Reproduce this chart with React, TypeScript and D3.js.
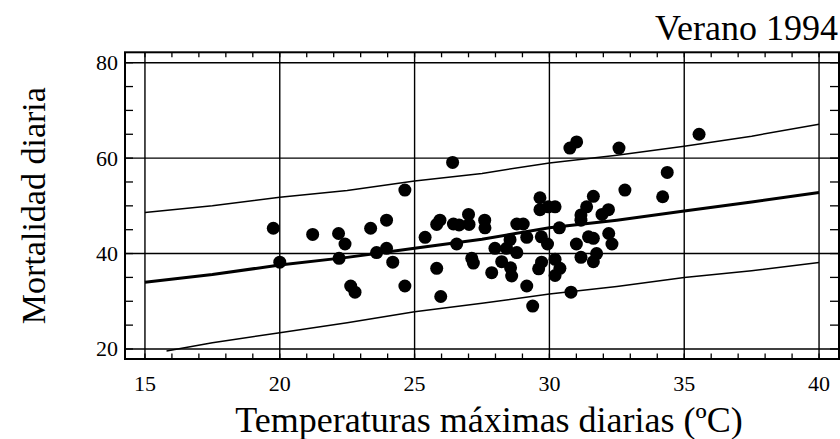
import React from "react";
import * as d3 from "d3";

const W = 840;
const H = 439;

// scatter: daily max temperature (ºC) vs daily mortality
const temps = [
  19.76, 21.22, 22.18, 22.42, 20.0, 22.2, 22.63, 22.79, 23.37, 23.96,
  23.59, 23.96, 24.19, 24.64, 24.64, 25.39, 25.82, 25.97, 25.94, 25.82,
  26.41, 26.44, 26.65, 27.0, 27.02, 26.56, 27.12, 27.18, 27.6, 27.61,
  27.98, 27.86, 28.23, 28.41, 28.54, 28.79, 29.03, 28.56, 28.6, 28.79,
  29.16, 29.16, 29.38, 29.65, 29.65, 30.21, 29.7, 29.93, 29.71, 29.6,
  30.21, 30.21, 30.39, 30.37, 30.8, 31.01, 30.76, 31.0, 31.17, 31.38,
  31.63, 31.17, 31.45, 31.63, 31.17, 31.63, 31.75, 31.95, 32.19, 32.2,
  32.32, 32.58, 32.8, 34.37, 34.2, 35.55, 29.96,
];
const deaths = [
  45.3, 44.0, 44.2, 42.0, 38.2, 39.0, 33.2, 31.9, 45.3, 47.0,
  40.2, 41.1, 38.2, 33.2, 53.3, 43.4, 36.9, 31.0, 47.0, 46.1,
  59.1, 46.2, 46.0, 48.2, 46.1, 42.0, 39.0, 38.0, 47.0, 45.4,
  41.1, 36.0, 38.3, 41.1, 42.9, 46.2, 46.2, 37.0, 35.3, 40.2,
  43.4, 33.2, 29.0, 51.7, 49.2, 49.8, 43.5, 42.0, 38.2, 36.8,
  38.8, 35.4, 36.9, 45.4, 31.9, 63.4, 62.1, 42.0, 48.1, 49.8,
  52.0, 47.0, 43.5, 43.2, 39.2, 38.3, 40.0, 48.2, 49.2, 44.2,
  42.0, 62.1, 53.3, 57.0, 51.9, 65.0, 49.8,
];

// fitted line and its band
const fitX = [15, 17.5, 20, 22.5, 25, 27.5, 30, 32.5, 35, 37.5, 40];
const fitY = [34.0, 35.6, 37.6, 39.2, 41.1, 43.0, 45.4, 47.0, 48.9, 50.8, 52.8];
const upY = [48.6, 50.0, 51.8, 53.2, 55.2, 56.8, 59.0, 60.6, 62.5, 64.6, 67.1];
const lowX = [15.8, 17.5, 20, 22.5, 25, 27.5, 30, 32.5, 35, 37.5, 40];
const lowY = [19.6, 21.3, 23.4, 25.5, 27.8, 29.6, 31.5, 33.1, 35.0, 36.4, 38.1];

const xTicks = [15, 20, 25, 30, 35, 40];
const yTicks = [20, 40, 60, 80];
const xMinor = d3.range(15, 41, 1);
const yMinor = d3.range(20, 81, 5);

const FONT = "'Liberation Serif', 'Times New Roman', serif";

export default function App() {
  const L = 125, R = 839, T = 52.3, B = 359;
  const x = d3.scaleLinear().domain([14.26, 40.74]).range([L, R]);
  const y = d3.scaleLinear().domain([17.9, 82.18]).range([B, T]);

  const line = d3.line<number>().x((d, i) => x(fitX[i])).y((d) => y(d));
  const lowLine = d3.line<number>().x((d, i) => x(lowX[i])).y((d) => y(d));

  return (
    <svg
      width={W}
      height={H}
      style={{ position: "absolute", left: 0, top: 0, background: "#fff" }}
    >
      {/* gridlines */}
      {xTicks.map((t) => (
        <line key={"gx" + t} x1={x(t)} x2={x(t)} y1={T} y2={B} stroke="#000" strokeWidth={1.4} />
      ))}
      {yTicks.map((t) => (
        <line key={"gy" + t} x1={L} x2={R} y1={y(t)} y2={y(t)} stroke="#000" strokeWidth={1.4} />
      ))}

      {/* minor ticks */}
      {xMinor.map((t) => (
        <g key={"tx" + t}>
          <line x1={x(t)} x2={x(t)} y1={T} y2={T + 5} stroke="#000" strokeWidth={1.3} />
          <line x1={x(t)} x2={x(t)} y1={B} y2={B - 5.5} stroke="#000" strokeWidth={1.3} />
        </g>
      ))}
      {yMinor.map((t) => (
        <g key={"ty" + t}>
          <line x1={L} x2={L + 8} y1={y(t)} y2={y(t)} stroke="#000" strokeWidth={1.3} />
          <line x1={R} x2={R - 9} y1={y(t)} y2={y(t)} stroke="#000" strokeWidth={1.3} />
        </g>
      ))}

      {/* band and fit */}
      <path d={line(upY) ?? ""} fill="none" stroke="#000" strokeWidth={1.5} />
      <path d={lowLine(lowY) ?? ""} fill="none" stroke="#000" strokeWidth={1.5} />
      <path d={line(fitY) ?? ""} fill="none" stroke="#000" strokeWidth={3} />

      {/* points */}
      {temps.map((t, i) => (
        <circle key={"p" + i} cx={x(t)} cy={y(deaths[i])} r={6.5} fill="#000" />
      ))}

      {/* frame */}
      <rect x={L} y={T} width={R - L} height={B - T} fill="none" stroke="#000" strokeWidth={2} />

      {/* tick labels */}
      {yTicks.map((t) => (
        <text key={"ly" + t} x={118} y={y(t) + 7.5} textAnchor="end" fontFamily={FONT} fontSize={22}>
          {t}
        </text>
      ))}
      {xTicks.map((t) => (
        <text key={"lx" + t} x={x(t)} y={391} textAnchor="middle" fontFamily={FONT} fontSize={22}>
          {t}
        </text>
      ))}

      {/* titles */}
      <text x={838} y={40} textAnchor="end" fontFamily={FONT} fontSize={36}>
        Verano 1994
      </text>
      <text x={(L + R) / 2 + 7} y={432} textAnchor="middle" fontFamily={FONT} fontSize={36}>
        Temperaturas máximas diarias (ºC)
      </text>
      <text
        transform={`translate(45,${(T + B) / 2}) rotate(-90)`}
        textAnchor="middle"
        fontFamily={FONT}
        fontSize={34}
      >
        Mortalidad diaria
      </text>
    </svg>
  );
}
